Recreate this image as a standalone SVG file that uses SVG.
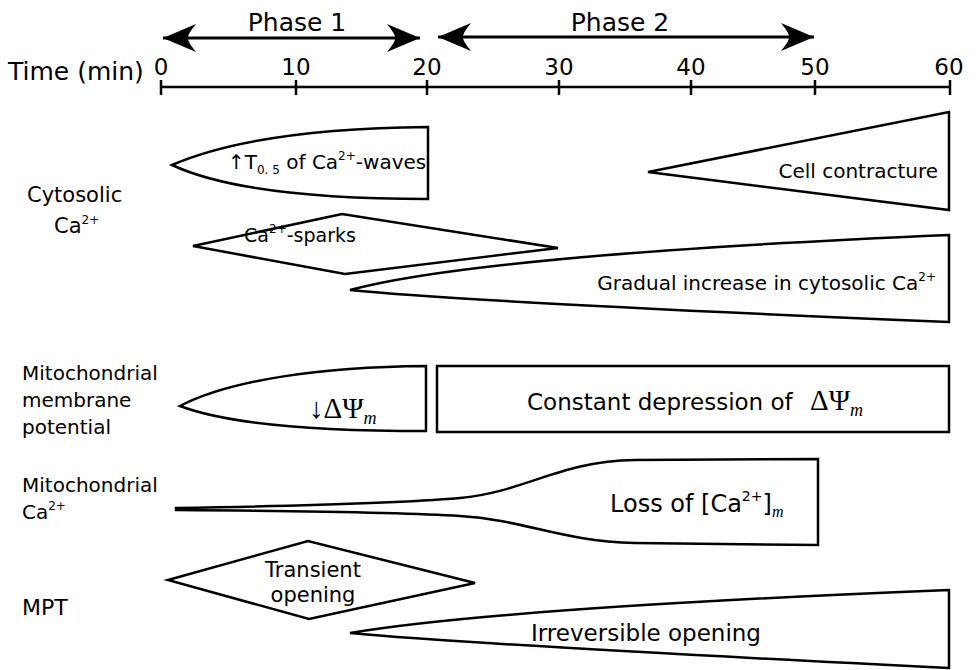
<svg xmlns="http://www.w3.org/2000/svg" width="977" height="670" viewBox="0 0 977 670">
<style>
text{font-family:"DejaVu Sans","Liberation Sans",sans-serif;fill:#000}
.lbl{font-size:20px}
.big{font-size:25px}
.tick{font-size:23px}
.serif{font-family:"Liberation Serif","DejaVu Serif",serif}
.shape{fill:#fff;stroke:#000;stroke-width:2.5;stroke-linejoin:miter}
.axis{stroke:#000;stroke-width:2.5;fill:none}
.parrow{stroke:#000;stroke-width:3;fill:none}
</style>
<defs>
<marker id="ah" markerUnits="userSpaceOnUse" markerWidth="36" markerHeight="32" viewBox="-34 -16 36 32" refX="0" refY="0" orient="auto-start-reverse">
<path d="M0,0 L-33,-14 Q-24,-3 -25,0 Q-24,3 -33,14 Z" fill="#000"/>
</marker>
</defs>
<rect width="977" height="670" fill="#fff"/>

<g id="axis">
<text class="big" x="8" y="80">Time (min)</text>
<line class="axis" x1="161" y1="87" x2="950" y2="87"/>
<path class="axis" d="M161,80V95M296,80V95M427,80V95M559,80V95M691,80V95M815,80V95M950,80V95"/>
<g class="tick" text-anchor="middle">
<text x="161" y="75">0</text>
<text x="296" y="75">10</text>
<text x="427" y="75">20</text>
<text x="559" y="75">30</text>
<text x="691" y="75">40</text>
<text x="815" y="75">50</text>
<text x="949" y="75">60</text>
</g>
</g>

<g id="phases">
<line class="parrow" x1="163" y1="38" x2="420" y2="38" marker-start="url(#ah)" marker-end="url(#ah)"/>
<text class="big" x="297" y="31" text-anchor="middle">Phase 1</text>
<line class="parrow" x1="438" y1="37" x2="814" y2="37" marker-start="url(#ah)" marker-end="url(#ah)"/>
<text class="big" x="620" y="31" text-anchor="middle">Phase 2</text>
</g>

<g id="row-labels" class="lbl">
<text x="27" y="202" font-size="21">Cytosolic</text>
<text x="54" y="233" font-size="21">Ca<tspan font-size="12" dy="-9">2+</tspan></text>
<text x="22" y="380">Mitochondrial</text>
<text x="22" y="407">membrane</text>
<text x="22" y="434">potential</text>
<text x="22" y="492">Mitochondrial</text>
<text x="22" y="519">Ca<tspan font-size="12" dy="-9">2+</tspan></text>
<text x="22" y="615" font-size="22">MPT</text>
</g>

<g id="t05-waves">
<path class="shape" d="M172,165 C230,140 320,128 428,127 L428,199 C330,199 230,192 172,165 Z"/>
<text class="lbl" x="228" y="169">↑T<tspan font-size="12" dy="5">0. 5</tspan><tspan dy="-5"> of Ca</tspan><tspan font-size="12" dy="-9">2+</tspan><tspan dy="9">-waves</tspan></text>
</g>

<g id="sparks">
<path class="shape" d="M193,246 L342,214 L558,248 L345,274 Z"/>
<text x="300" y="242" font-size="19" text-anchor="middle">Ca<tspan font-size="12" dy="-9">2+</tspan><tspan dy="9">-sparks</tspan></text>
</g>

<g id="contracture">
<path class="shape" d="M648,172 L949,112 L949,210 Z"/>
<text class="lbl" x="938" y="178" text-anchor="end">Cell contracture</text>
</g>

<g id="gradual">
<path class="shape" d="M350,290 Q480,255 949,235 L949,322 Q470,302 350,290 Z"/>
<text class="lbl" x="936" y="290" text-anchor="end">Gradual increase in cytosolic Ca<tspan font-size="12" dy="-9">2+</tspan></text>
</g>

<g id="dpsi-drop">
<path class="shape" d="M180,406 C230,380 320,367 426,366 L426,431 C320,431 230,425 180,406 Z"/>
<text class="serif" x="309" y="418" font-size="29">↓ΔΨ<tspan font-size="18" font-style="italic" dy="6">m</tspan></text>
</g>

<g id="dpsi-constant">
<rect class="shape" x="437" y="366" width="512" height="66"/>
<text x="527" y="410" font-size="23">Constant depression of<tspan class="serif" font-size="29" x="810">ΔΨ</tspan><tspan class="serif" font-size="18" font-style="italic" dy="6">m</tspan></text>
</g>

<g id="mito-ca-loss">
<path class="shape" d="M176,508 C300,506 400,503 460,498 C525,492 560,461 635,460 L818,459 L818,545 L635,543 C560,541 525,520 460,516 C400,512 300,511 176,510 Z"/>
<text x="610" y="512" font-size="24">Loss of [Ca<tspan font-size="14" dy="-11">2+</tspan><tspan dy="11">]</tspan><tspan class="serif" font-size="16" font-style="italic" dy="5">m</tspan></text>
</g>

<g id="transient">
<path class="shape" d="M168,580 L308,541 L475,583 L309,619 Z"/>
<text x="313" y="577" font-size="21" text-anchor="middle">Transient</text>
<text x="313" y="602" font-size="21" text-anchor="middle">opening</text>
</g>

<g id="irreversible">
<path class="shape" d="M350,633 Q500,608 949,590 L949,668 Q480,645 350,633 Z"/>
<text x="646" y="641" font-size="23" text-anchor="middle">Irreversible opening</text>
</g>
</svg>
